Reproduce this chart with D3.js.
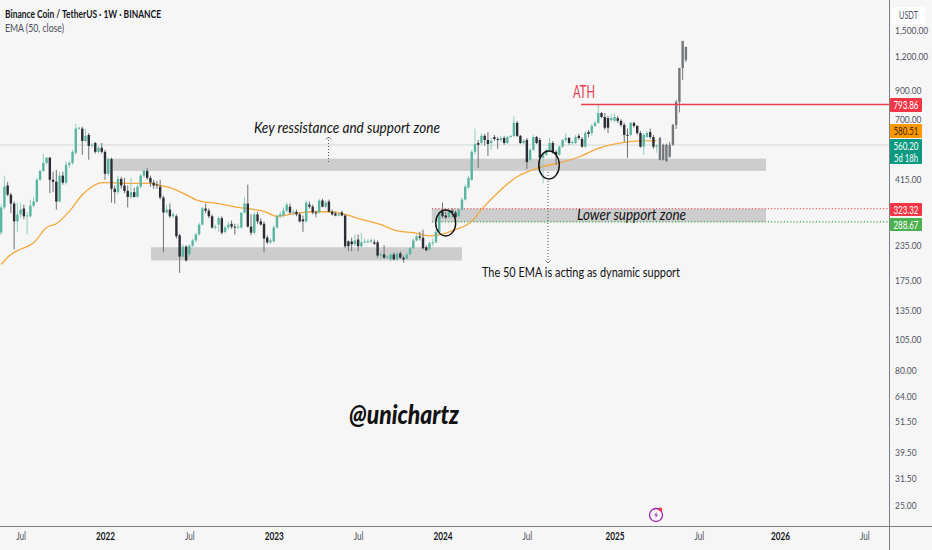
<!DOCTYPE html>
<html><head><meta charset="utf-8">
<script src="https://cdn.jsdelivr.net/npm/d3@7/dist/d3.min.js"></script>
<style>
html,body{margin:0;padding:0;background:#f6f6f6;overflow:hidden}
text{font-family:Lato,"Open Sans",sans-serif}
</style></head><body>
<svg id="c" width="932" height="550"></svg>
<script>
const firstWeek = "2021-05-24";
const opens = [263,327,395,365,338,290,308,324,303,303,332,344,415,448,480,502,415,408,344,430,405,472,480,524,645,645,580,611,556,570,528,547,528,437,497,384,373,418,395,377,358,373,358,391,430,448,422,405,398,391,356,313,321,303,303,257,214,233,218,235,246,259,282,324,318,303,275,282,298,265,275,284,277,275,
275,313,338,277,263,308,290,284,252,242,244,275,303,305,318,329,313,315,308,295,290,335,329,313,313,347,329,344,315,310,305,313,305,244,244,238,248,234,242,242,243,242,242,216,218,212,209,218,209,220,212,210,218,230,246,255,252,232,228,240,242,265,315,305,300,318,313,303,321,350,
388,415,528,570,570,606,585,570,600,590,585,595,570,600,606,678,606,570,585,493,537,600,585,502,515,537,570,528,515,552,585,595,570,570,606,590,552,626,621,660,678,738,713,706,695,690,706,690,666,611,611,678,660,621,552,600,626,600,552,
595,493,561,506,561,666,812,1088,1166];
const closes = [327,391,365,338,290,308,321,303,305,332,344,415,448,480,502,415,408,344,430,405,472,480,528,645,650,580,606,556,561,528,547,528,437,497,384,373,418,395,377,358,373,358,391,430,448,422,405,395,395,356,313,321,303,308,255,214,233,207,235,246,259,282,324,318,303,275,277,298,263,275,282,277,275,277,
313,338,277,263,308,290,282,250,242,246,275,303,308,318,335,313,315,308,290,290,341,329,313,312,347,329,341,315,308,305,308,305,234,234,238,246,234,242,244,244,246,239,216,218,212,214,218,209,220,212,209,218,230,246,255,252,230,226,240,242,265,313,303,300,318,313,300,321,350,391,
422,528,565,561,606,585,565,580,590,585,595,570,600,606,678,606,570,580,483,537,600,570,502,515,537,570,528,515,552,585,595,570,575,600,595,552,621,616,660,678,738,713,650,650,706,713,690,666,611,606,678,660,621,552,611,621,600,552,556,
493,561,488,561,666,812,1088,1373,1304];
const highs = [335,430,408,371,344,341,341,335,315,350,358,422,452,520,506,506,445,452,445,445,485,488,537,672,656,656,645,621,570,575,556,570,537,502,502,395,430,426,422,395,422,388,398,437,456,460,430,415,411,415,362,335,338,315,308,261,238,236,238,250,263,287,329,338,324,308,282,303,303,280,290,292,284,284,
280,358,398,308,313,315,298,290,257,250,280,308,315,327,341,338,321,321,313,305,347,344,335,318,353,353,347,350,321,315,312,318,308,246,252,259,259,263,250,248,250,248,246,222,236,218,222,222,224,224,216,222,233,250,259,265,270,236,244,250,270,315,341,315,321,324,318,324,356,398,
430,537,645,585,621,616,626,597,611,600,606,606,606,611,716,690,611,590,595,547,611,606,595,528,542,595,580,537,556,590,621,600,580,611,616,600,632,638,672,690,791,745,738,720,732,738,720,700,678,645,684,684,666,632,621,632,645,611,565,
600,567,567,575,672,826,1090,1375,1310];
const lows = [258,321,360,311,228,265,300,295,259,300,327,341,411,445,472,370,373,321,341,398,398,460,472,515,638,515,575,493,547,520,520,520,415,430,341,338,365,384,370,327,353,356,356,384,422,415,391,384,384,350,222,310,298,298,250,186,212,205,214,233,242,257,280,311,298,272,270,265,259,261,270,272,259,272,
272,310,275,257,259,284,280,222,238,238,242,272,298,300,313,308,305,303,287,265,287,324,308,300,310,327,324,313,305,303,303,303,230,224,224,234,224,230,240,240,241,237,212,209,210,209,205,207,207,210,203,209,216,228,244,246,228,224,224,234,240,263,298,295,298,300,298,300,318,347,
384,411,515,460,561,556,510,537,580,542,575,561,565,595,600,600,565,565,456,483,532,565,452,403,510,532,520,472,510,547,575,561,561,565,585,547,547,600,606,655,672,706,638,621,684,684,678,655,575,502,606,650,611,547,515,595,590,542,524,
490,490,484,502,556,643,742,980,1146];
const grayFromIndex = 203;

const emaWeeks = [0,3,6,10,14,17,21,25,28,31,34,37,41,46,49,52,57,61,67,73,78,81,85,91,96,101,106,111,117,122,127,132,136,140,145,148,154,159,166,172,178,184,191,197,202];
const emaValues = [200,218,228,241,275,284,316,365,391,405,405,402,402,402,395,388,365,346,338,327,321,316,303,311,315,315,308,295,282,267,263,256,260,270,290,321,381,426,462,480,505,544,570,580,580.51];

const priceTicks = [1500,1200,900,700,415,235,175,135,105,80,64,51.5,39.5,31.5,25];
const timeTickDates = ["2021-07-05","2022-01-03","2022-07-04","2023-01-02","2023-07-03","2024-01-01","2024-07-01","2025-01-06","2025-07-07","2025-12-29","2026-06-29"];
const timeTickLabels = ["Jul","2022","Jul","2023","Jul","2024","Jul","2025","Jul","2026","Jul"];

const zoneStarts = ["2022-01-20","2022-04-12","2023-12-09"];
const zoneEnds = ["2025-11-29","2024-02-12","2025-11-29"];
const zoneTops = [498,232,323.32];
const zoneBottoms = [448,207,288.67];
const athStart = "2024-10-26";
const athPrice = 793.86, resistancePrice = 323.32, supportPrice = 288.67, lastPrice = 560.20, emaLast = 580.51;

const W = 932, H = 550, plotR = 889, plotB = 526;
const parse = d3.utcParse("%Y-%m-%d");
const x = d3.scaleUtc().domain([parse("2022-01-03"), parse("2025-12-29")]).range([105, 780]);
const y = d3.scaleLog().domain([1955, 20.98]).range([0, plotB]);
const weekDates = opens.map((_, i) => d3.utcWeek.offset(parse(firstWeek), i));

const svg = d3.select("#c");
svg.append("rect").attr("width", W).attr("height", H).attr("fill", "#f6f6f6");

// last price line
svg.append("line").attr("x1",0).attr("x2",plotR).attr("y1",y(lastPrice)).attr("y2",y(lastPrice)).attr("stroke","#cfdcd8").attr("stroke-width",1);

// zones
svg.append("g").selectAll("rect").data(zoneStarts).join("rect")
  .attr("x",(d)=>x(parse(d)))
  .attr("width",(d,i)=>x(parse(zoneEnds[i]))-x(parse(d)))
  .attr("y",(d,i)=>y(zoneTops[i]))
  .attr("height",(d,i)=>y(zoneBottoms[i])-y(zoneTops[i]))
  .attr("fill","#cdcdcd");

// dotted level lines
svg.append("line").attr("x1",x(parse(zoneStarts[2]))).attr("x2",plotR).attr("y1",y(resistancePrice)).attr("y2",y(resistancePrice)).attr("stroke","#ee3a4a").attr("stroke-width",1.2).attr("stroke-dasharray","1.2 2");
svg.append("line").attr("x1",x(parse(zoneStarts[2]))).attr("x2",plotR).attr("y1",y(supportPrice)).attr("y2",y(supportPrice)).attr("stroke","#3aa447").attr("stroke-width",1.2).attr("stroke-dasharray","1.2 2");

// EMA
const emaLine = d3.line().x(d=>x(weekDates[d[0]])).y(d=>y(d[1])).curve(d3.curveMonotoneX);
svg.append("path").attr("d",emaLine(emaWeeks.map((w,i)=>[w,emaValues[i]]))).attr("fill","none").attr("stroke","#f5a83c").attr("stroke-width",1.3);

// candles
const isUp = i => closes[i] >= opens[i];
const bodyColor = i => i >= grayFromIndex ? "#74777a" : (isUp(i) ? "#58b5a0" : "#2b2d35");
const wickColor = i => i >= grayFromIndex ? "#74777a" : (isUp(i) ? "#8fcdbd" : "#6f7074");
const g = svg.append("g");
g.selectAll("line").data(opens).join("line")
  .attr("x1",(d,i)=>x(weekDates[i])).attr("x2",(d,i)=>x(weekDates[i]))
  .attr("y1",(d,i)=>y(highs[i])).attr("y2",(d,i)=>y(lows[i]))
  .attr("stroke",(d,i)=>wickColor(i)).attr("stroke-width",1);
g.selectAll("rect").data(opens).join("rect")
  .attr("x",(d,i)=>x(weekDates[i])-1.2).attr("width",2.4)
  .attr("y",(d,i)=>Math.min(y(opens[i]),y(closes[i])))
  .attr("height",(d,i)=>Math.max(1,Math.abs(y(opens[i])-y(closes[i]))))
  .attr("fill",(d,i)=>bodyColor(i));

// ATH line
svg.append("line").attr("x1",x(parse(athStart))).attr("x2",plotR).attr("y1",y(athPrice)).attr("y2",y(athPrice)).attr("stroke","#ea3f4e").attr("stroke-width",1.6);

// ellipses
[[445.7,223,10,13],[549,165,10.3,14]].forEach(e=>{
  svg.append("ellipse").attr("cx",e[0]).attr("cy",e[1]).attr("rx",e[2]).attr("ry",e[3]).attr("fill","none").attr("stroke","#111").attr("stroke-width",1.4);
});

// dotted arrows
function arrow(px,y1,y2,dir){
  svg.append("line").attr("x1",px).attr("x2",px).attr("y1",y1).attr("y2",y2).attr("stroke","#555").attr("stroke-width",1).attr("stroke-dasharray","1 2");
  const tip = dir>0?y2:y1;
  svg.append("path").attr("d",`M${px-2.5},${tip-2.5*dir}L${px},${tip}L${px+2.5},${tip-2.5*dir}`).attr("fill","none").attr("stroke","#555").attr("stroke-width",.8);
}
arrow(328.5,137,164,-1);
arrow(548,172,263,1);

// text helpers: width narrowed to match the condensed face of the original
const squeeze = (sel,f)=>sel.each(function(){
  this.setAttribute("textLength",this.getComputedTextLength()*f);
  this.setAttribute("lengthAdjust","spacingAndGlyphs");
});
const note = (t,px,py,size,o={})=>{
  const s=svg.append("text").text(t).attr("x",px).attr("y",py).attr("font-size",size)
  .attr("font-style",o.italic?"italic":"normal").attr("font-weight",o.weight||400).attr("fill",o.fill||"#111").attr("text-anchor",o.anchor||"start");
  if(o.len){s.attr("textLength",o.len).attr("lengthAdjust","spacingAndGlyphs");}
  return s;
};
note("Key ressistance and support zone",254,133,15,{italic:true,len:186});
note("Lower support zone",577,220,14.5,{italic:true,len:109});
note("The 50 EMA is acting as dynamic support",482,276.5,13,{len:198});
note("ATH",573,98,17,{fill:"#ea3f4e",len:22});
note("@unichartz",349,424,26,{italic:true,weight:900,len:110});

// legend
note("Binance Coin / TetherUS · 1W · BINANCE",5,18,11,{weight:700,fill:"#131722",len:156});
note("EMA (50, close)",5,32,11,{fill:"#4a4e59",len:59});

// axes lines
svg.append("line").attr("x1",plotR+.5).attr("x2",plotR+.5).attr("y1",0).attr("y2",H).attr("stroke","#7d7f84").attr("stroke-width",1);
svg.append("line").attr("x1",0).attr("x2",W).attr("y1",plotB+.5).attr("y2",plotB+.5).attr("stroke","#7d7f84").attr("stroke-width",1);

// y axis
const yAxis = d3.axisRight(y).tickValues(priceTicks).tickSize(0).tickPadding(0).tickFormat(d3.format(",.2f"));
const ya = svg.append("g").attr("transform",`translate(895,0)`).call(yAxis);
ya.select(".domain").remove();
ya.selectAll("text").attr("font-size",9.8).attr("fill","#50535e").style("font-family","Lato").call(squeeze,.86);

// x axis
const xAxis = d3.axisBottom(x).tickValues(timeTickDates.map(parse)).tickSize(0).tickPadding(0)
  .tickFormat((d,i)=>timeTickLabels[i]);
const xa = svg.append("g").attr("transform",`translate(0,${plotB+7})`).call(xAxis);
xa.select(".domain").remove();
xa.selectAll("text").attr("font-size",10.5).style("font-family","Lato")
  .attr("font-weight",(d,i)=>/\d/.test(timeTickLabels[i])?700:400)
  .attr("fill",(d,i)=>/\d/.test(timeTickLabels[i])?"#131722":"#50535e").call(squeeze,.78);

// USDT box
svg.append("rect").attr("x",892).attr("y",7).attr("width",33).attr("height",17).attr("fill","#fff").attr("rx",2);
note("USDT",908.5,18.5,10.5,{anchor:"middle",fill:"#50535e",len:19});

// price labels
function tag(top,h,fill,lines,txt){
  svg.append("rect").attr("x",890).attr("y",top).attr("width",32).attr("height",h).attr("fill",fill).attr("rx",1);
  lines.forEach((l,i)=>note(l,906,top+10.5+i*12.5,10.5,{anchor:"middle",fill:txt,len:i?24:25}));
}
tag(98,14,"#f23645",[d3.format(".2f")(athPrice)],"#fff");
tag(124,14,"#ff9800",[d3.format(".2f")(emaLast)],"#3a2a00");
tag(139,25,"#089981",[d3.format(".2f")(lastPrice),"5d 18h"],"#fff");
tag(203,13,"#f23645",[d3.format(".2f")(resistancePrice)],"#fff");
tag(218,13,"#4caf50",[d3.format(".2f")(supportPrice)],"#fff");

// icon
const ic = svg.append("g").attr("transform","translate(656,515)");
ic.append("circle").attr("r",6.5).attr("fill","none").attr("stroke","#9c27b0").attr("stroke-width",1.3);
ic.append("path").attr("d","M1.2,-3.5L-1.8,0.5H0.3L-1,3.6L2.1,-0.6H0Z").attr("fill","#9c27b0");
ic.append("circle").attr("cx",4.3).attr("cy",-5.6).attr("r",1.9).attr("fill","#f23645");
</script>
</body></html>
